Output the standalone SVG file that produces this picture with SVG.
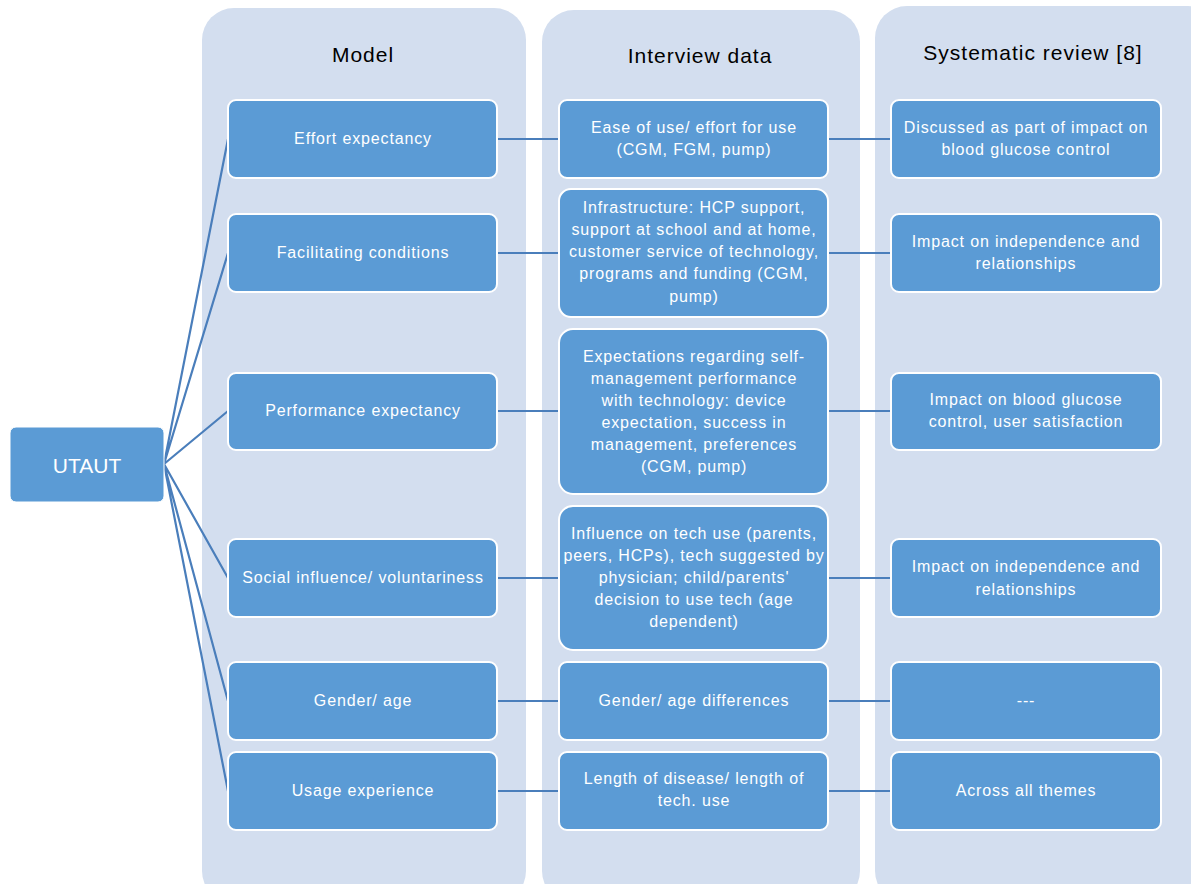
<svg xmlns="http://www.w3.org/2000/svg" width="1191" height="884" viewBox="0 0 1191 884">
<style>
.panel{fill:#D3DEEF;}
.box{fill:#5B9BD5;stroke:#FFFFFF;stroke-width:2;}
.t{font-family:"Liberation Sans",Arial,sans-serif;font-size:16px;letter-spacing:0.85px;fill:#FFFFFF;text-anchor:middle;}
.h{font-family:"Liberation Sans",Arial,sans-serif;font-size:21px;letter-spacing:1px;fill:#000000;text-anchor:middle;}
.c{stroke:#4A7EBB;stroke-width:2.2;fill:none;}
</style>
<rect width="1191" height="884" fill="#FFFFFF"/>
<g id="panels">
<rect class="panel" x="202" y="8" width="324" height="895" rx="32"/>
<rect class="panel" x="542" y="10" width="318" height="893" rx="32"/>
<rect class="panel" x="875" y="6" width="345" height="897" rx="32"/>
<text class="h" x="363" y="62">Model</text>
<text class="h" x="700" y="63">Interview data</text>
<text class="h" x="1033" y="60">Systematic review [8]</text>
</g>
<g id="connectors">
<path class="c" d="M164 464 L228 139 M164 464 L228 253 M164 464 L228 411 M164 464 L228 578 M164 464 L228 701 M164 464 L228 791"/>
<path class="c" d="M497 139 H559 M828 139 H891 M497 253 H559 M828 253 H891 M497 411 H559 M828 411 H891 M497 578 H559 M828 578 H891 M497 701 H559 M828 701 H891 M497 791 H559 M828 791 H891"/>
</g>
<g id="utaut">
<rect x="10" y="427" width="154" height="75" rx="6" fill="#5B9BD5" stroke="#FFFFFF" stroke-width="1"/>
<text x="87" y="473" style="font-family:'Liberation Sans',Arial,sans-serif;font-size:21px;fill:#FFFFFF;text-anchor:middle">UTAUT</text>
</g>
<g id="m1"><rect class="box" x="228" y="100" width="269" height="78" rx="8"/><text class="t" x="363" y="144">Effort expectancy</text></g>
<g id="m2"><rect class="box" x="228" y="214" width="269" height="78" rx="8"/><text class="t" x="363" y="258">Facilitating conditions</text></g>
<g id="m3"><rect class="box" x="228" y="373" width="269" height="77" rx="8"/><text class="t" x="363" y="416">Performance expectancy</text></g>
<g id="m4"><rect class="box" x="228" y="539" width="269" height="78" rx="8"/><text class="t" x="363" y="583">Social influence/ voluntariness</text></g>
<g id="m5"><rect class="box" x="228" y="662" width="269" height="78" rx="8"/><text class="t" x="363" y="706">Gender/ age</text></g>
<g id="m6"><rect class="box" x="228" y="752" width="269" height="78" rx="8"/><text class="t" x="363" y="796">Usage experience</text></g>
<g id="i1"><rect class="box" x="559" y="100" width="269" height="78" rx="8"/><text class="t" x="694" y="133">Ease of use/ effort for use</text><text class="t" x="694" y="155">(CGM, FGM, pump)</text></g>
<g id="i2"><rect class="box" x="559" y="189" width="269" height="128" rx="12"/><text class="t" x="694" y="213">Infrastructure: HCP support,</text><text class="t" x="694" y="235">support at school and at home,</text><text class="t" x="694" y="257">customer service of technology,</text><text class="t" x="694" y="279">programs and funding (CGM,</text><text class="t" x="694" y="302">pump)</text></g>
<g id="i3"><rect class="box" x="559" y="329" width="269" height="165" rx="14"/><text class="t" x="694" y="362">Expectations regarding self-</text><text class="t" x="694" y="384">management performance</text><text class="t" x="694" y="406">with technology: device</text><text class="t" x="694" y="428">expectation, success in</text><text class="t" x="694" y="450">management, preferences</text><text class="t" x="694" y="472">(CGM, pump)</text></g>
<g id="i4"><rect class="box" x="559" y="506" width="269" height="144" rx="14"/><text class="t" x="694" y="539">Influence on tech use (parents,</text><text class="t" x="694" y="561">peers, HCPs), tech suggested by</text><text class="t" x="694" y="583">physician; child/parents'</text><text class="t" x="694" y="605">decision to use tech (age</text><text class="t" x="694" y="627">dependent)</text></g>
<g id="i5"><rect class="box" x="559" y="662" width="269" height="78" rx="8"/><text class="t" x="694" y="706">Gender/ age differences</text></g>
<g id="i6"><rect class="box" x="559" y="752" width="269" height="78" rx="8"/><text class="t" x="694" y="784">Length of disease/ length of</text><text class="t" x="694" y="806">tech. use</text></g>
<g id="s1"><rect class="box" x="891" y="100" width="270" height="78" rx="8"/><text class="t" x="1026" y="133">Discussed as part of impact on</text><text class="t" x="1026" y="155">blood glucose control</text></g>
<g id="s2"><rect class="box" x="891" y="214" width="270" height="78" rx="8"/><text class="t" x="1026" y="247">Impact on independence and</text><text class="t" x="1026" y="269">relationships</text></g>
<g id="s3"><rect class="box" x="891" y="373" width="270" height="77" rx="8"/><text class="t" x="1026" y="405">Impact on blood glucose</text><text class="t" x="1026" y="427">control, user satisfaction</text></g>
<g id="s4"><rect class="box" x="891" y="539" width="270" height="78" rx="8"/><text class="t" x="1026" y="572">Impact on independence and</text><text class="t" x="1026" y="595">relationships</text></g>
<g id="s5"><rect class="box" x="891" y="662" width="270" height="78" rx="8"/><text class="t" x="1026" y="706">---</text></g>
<g id="s6"><rect class="box" x="891" y="752" width="270" height="78" rx="8"/><text class="t" x="1026" y="796">Across all themes</text></g>
</svg>
